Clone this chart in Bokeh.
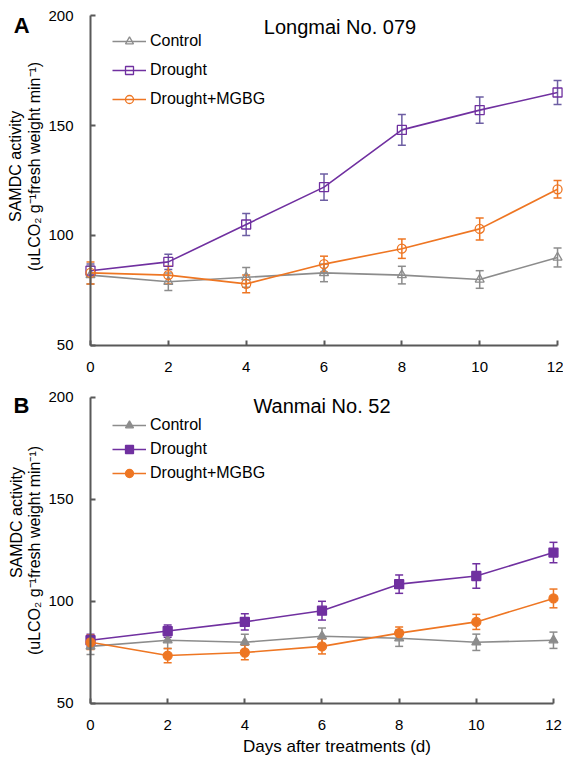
import numpy as np
from bokeh.plotting import figure
from bokeh.models import (ColumnDataSource, Whisker, TeeHead, Legend, LegendItem,
                          Label, Range1d, FixedTicker)
from bokeh.layouts import column
from bokeh.embed import file_html
from bokeh.resources import INLINE

days = [0, 2, 4, 6, 8, 10, 12]
y_ticks = [50, 100, 150, 200]
series_names = ["Control", "Drought", "Drought+MGBG"]

# Panel A: Longmai No. 079
a_control = [82, 79, 81, 83, 82, 80, 90]
a_control_err = [4, 4, 4.5, 4, 4, 4, 4.3]
a_drought = [84, 88, 105, 122, 148, 157, 165]
a_drought_err = [3, 3.5, 5, 6, 7, 6, 5.4]
a_mgbg = [83, 82, 78, 87, 94, 103, 121]
a_mgbg_err = [5, 4, 4, 3.6, 4.4, 5, 4]

# Panel B: Wanmai No. 52
b_control = [78, 81, 80, 83, 82, 80, 81]
b_control_err = [4, 4, 4, 4, 4, 4, 4]
b_drought = [81, 85.5, 90, 95.5, 108.5, 112.5, 124]
b_drought_err = [3, 3, 4, 4.6, 4.5, 6, 5]
b_mgbg = [80, 73.5, 75, 78, 84.5, 90, 101.5]
b_mgbg_err = [3.5, 3.5, 3.5, 3.7, 3, 3.7, 4.6]

COLORS = ["#8c8c8c", "#7030a0", "#ee7623"]
ERR_COLORS_A = ["#8c8c8c", "#6d5ea3", "#ee7623"]
ERR_COLORS_B = ["#8c8c8c", "#7030a0", "#ee7623"]
MARKERS = ["triangle", "square", "circle"]
FONT = "Liberation Sans"


def make_panel(title, letter, data, errs, filled, err_colors, width, height,
               xr, yr, legend_y, legend_spacing, title_pos, letter_pos,
               ylab1_pos, ylab2_pos, xlabel_pos):
    p = figure(width=width, height=height, output_backend="svg", toolbar_location=None,
               x_range=Range1d(*xr), y_range=Range1d(*yr),
               min_border_left=0, min_border_right=0, min_border_top=0,
               min_border_bottom=0)
    p.outline_line_color = None
    p.grid.visible = False
    p.background_fill_color = "white"
    p.border_fill_color = "white"

    for ax in (p.xaxis[0], p.yaxis[0]):
        ax.axis_line_color = "#595959"
        ax.axis_line_width = 2
        ax.major_tick_line_color = "#595959"
        ax.major_tick_line_width = 2
        ax.major_tick_in = 5
        ax.major_tick_out = 0
        ax.minor_tick_line_color = None
        ax.major_label_text_font = FONT
        ax.major_label_text_font_size = "15px"
        ax.major_label_text_color = "#000000"
    p.xaxis.ticker = FixedTicker(ticks=days)
    p.xaxis.bounds = (days[0], days[-1])
    p.xaxis.fixed_location = y_ticks[0]
    p.xaxis.major_label_standoff = 17
    p.yaxis.ticker = FixedTicker(ticks=y_ticks)
    p.yaxis.bounds = (y_ticks[0], y_ticks[-1])
    p.yaxis.fixed_location = days[0]
    p.yaxis.major_label_standoff = 17

    items = []
    for i, name in enumerate(series_names):
        y = np.array(data[i], dtype=float)
        e = np.array(errs[i], dtype=float)
        src = ColumnDataSource(dict(x=days, y=y, lo=y - e, hi=y + e))
        w = Whisker(base="x", upper="hi", lower="lo", source=src,
                    line_color=err_colors[i], line_width=1.5,
                    upper_head=TeeHead(size=8, line_color=err_colors[i], line_width=1.5),
                    lower_head=TeeHead(size=8, line_color=err_colors[i], line_width=1.5))
        p.add_layout(w)
        ln = p.line("x", "y", source=src, line_color=COLORS[i], line_width=1.6)
        sc = p.scatter("x", "y", source=src, marker=MARKERS[i], size=9,
                       line_color=COLORS[i], line_width=1.3,
                       fill_color=COLORS[i] if filled else "white",
                       fill_alpha=1.0 if filled else 0.0)
        items.append(LegendItem(label=name, renderers=[ln, sc]))

    leg = Legend(items=items, location=(112, legend_y), padding=0, margin=0,
                 spacing=legend_spacing, glyph_width=34, glyph_height=20,
                 label_height=20, label_standoff=4, background_fill_alpha=0,
                 border_line_color=None, label_text_font=FONT,
                 label_text_font_size="16px", label_text_color="#000000")
    p.add_layout(leg)

    def lab(pos, text, size, **kw):
        p.add_layout(Label(x=pos[0], y=pos[1], text=text, text_font=FONT,
                           text_font_size=size, text_align="center",
                           text_baseline="middle", text_color="#000000", **kw))

    lab(title_pos, title, "20px")
    lab(letter_pos, letter, "22px", text_font_style="bold")
    lab(ylab1_pos, "SAMDC activity", "16px", angle=np.pi / 2)
    lab(ylab2_pos, "(uLCO\u2082 g\u207b\u00b9fresh weight min\u207b\u00b9)", "16px",
        angle=np.pi / 2)
    if xlabel_pos is not None:
        lab(xlabel_pos, "Days after treatments  (d)", "17px")
    return p


pA = make_panel("Longmai No. 079", "A",
                [a_control, a_drought, a_mgbg],
                [a_control_err, a_drought_err, a_mgbg_err],
                False, ERR_COLORS_A, 563, 375,
                (-2.312, 12.153), (36.36, 206.82), 266, 9,
                (6.41, 195), (-1.77, 195.5), (-1.93, 131.4), (-1.44, 131.4), None)
pB = make_panel("Wanmai No. 52", "B",
                [b_control, b_drought, b_mgbg],
                [b_control_err, b_drought_err, b_mgbg_err],
                True, ERR_COLORS_B, 563, 382,
                (-2.333, 12.260), (23.53, 210.78), 274, 4,
                (6.0, 196), (-1.79, 196), (-1.93, 138.7), (-1.44, 125), (6.45, 29.0))

layout = column(pA, pB, spacing=0)
open("out.html", "w").write(file_html(layout, INLINE))
